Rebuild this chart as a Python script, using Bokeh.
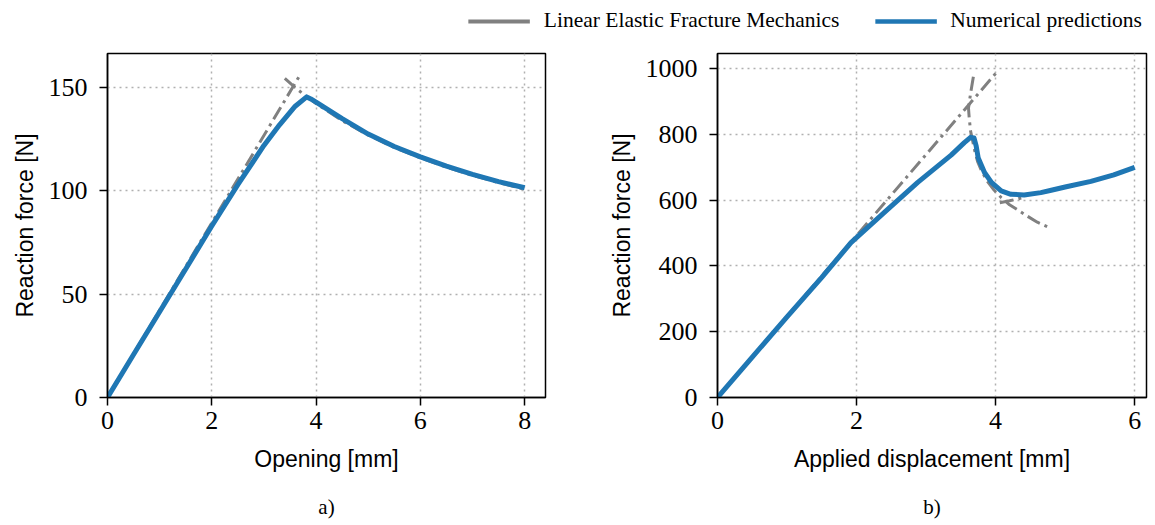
from bokeh.plotting import figure
from bokeh.layouts import column, row
from bokeh.models import Legend, LegendItem, Range1d, FixedTicker
from bokeh.core.properties import value
from bokeh.embed import file_html
from bokeh.resources import INLINE

# ---------------- data ----------------
# Panel a) : Opening [mm] vs reaction force [N]
a_num_x = [0, 0.5, 1, 1.5, 2, 2.5, 3, 3.3, 3.6, 3.82, 3.9, 4.0, 4.5, 5, 5.5, 6, 6.5, 7, 7.5, 8]
a_num_y = [0, 20.8, 41.5, 62.2, 83, 103, 122, 132, 141, 145.5, 144.5, 143, 135, 127.5, 121.5, 116.5, 112, 108, 104.5, 101.5]
a_lefm_lin_x = [0, 3.69]
a_lefm_lin_y = [0, 156]
a_lefm_crv_x = [3.4, 3.6, 3.8, 4.0, 4.5, 5, 5.5, 6, 6.5, 7, 7.5, 8]
a_lefm_crv_y = [154.5, 150, 146, 142.3, 134, 127, 121, 116, 111.5, 107.5, 104, 100.8]

# Panel b) : Applied displacement [mm] vs reaction force [N]
b_num_x = [0, 0.5, 1, 1.5, 1.92, 2.4, 2.88, 3.36, 3.55, 3.64, 3.69, 3.72, 3.75, 3.84, 3.94, 4.08, 4.22, 4.41, 4.65, 4.8, 5.0, 5.37, 5.7, 6.0]
b_num_y = [0, 123, 245, 365, 471, 563, 654, 737, 775, 791, 789, 765, 728, 684, 654, 628, 618, 616, 623, 630, 640, 657, 677, 700]
b_lefm_lin_x = [0, 4.04]
b_lefm_lin_y = [0, 995]
b_lefm_crv1_x = [3.68, 3.64, 3.61, 3.62, 3.64, 3.67, 3.70, 3.74, 3.80, 3.88, 3.98, 4.08, 4.2, 4.35, 4.46, 4.6, 4.77]
b_lefm_crv1_y = [975, 925, 880, 850, 810, 780, 750, 718, 688, 658, 630, 608, 586, 566, 551, 533, 517]
b_lefm_crv2_x = [4.06, 4.2, 4.42]
b_lefm_crv2_y = [592, 598, 609]

a_xticks = [0, 2, 4, 6, 8]
a_yticks = [0, 50, 100, 150]
b_xticks = [0, 2, 4, 6]
b_yticks = [0, 200, 400, 600, 800, 1000]

legend_labels = ["Linear Elastic Fracture Mechanics", "Numerical predictions"]
captions = ["a)", "b)"]
xlabels = ["Opening [mm]", "Applied displacement [mm]"]
ylabel = "Reaction force [N]"

# ---------------- layout / styles ----------------
BLUE = "#1f77b4"
GRAY = "#808080"
SERIF = "Liberation Serif"
SANS = "Liberation Sans"
DASHDOT = "14 5 3 5"

TOTAL_W = 1150
P1_W, P2_W = 600, 550
P1_BL, P1_BR = 107, 55
P2_BL, P2_BR = 117, 4
TOP_B, FRAME_H, BOT_B = 5, 344, 92
LEG_H = 48
CAP_H = 34


def style(p, xticks, yticks, xlabel):
    p.outline_line_color = "black"
    p.outline_line_width = 1.5
    for ax in (p.xaxis[0], p.yaxis[0]):
        ax.axis_line_width = 1.5
        ax.axis_line_color = "black"
        ax.major_tick_line_width = 1.5
        ax.major_tick_line_color = "black"
        ax.major_tick_out = 8
        ax.major_tick_in = 0
        ax.minor_tick_line_color = None
        ax.major_label_text_font = SERIF
        ax.major_label_text_font_size = "26px"
        ax.major_label_text_color = "black"
        ax.axis_label_text_font = SANS
        ax.axis_label_text_font_size = "23px"
        ax.axis_label_text_font_style = "normal"
        ax.axis_label_text_color = "black"
    p.xaxis[0].ticker = FixedTicker(ticks=xticks)
    p.yaxis[0].ticker = FixedTicker(ticks=yticks)
    p.xaxis[0].axis_label = xlabel
    p.yaxis[0].axis_label = ylabel
    p.xaxis[0].major_label_standoff = 6
    p.yaxis[0].major_label_standoff = 12
    p.xaxis[0].axis_label_standoff = 14
    p.yaxis[0].axis_label_standoff = 8
    for g in (p.xgrid[0], p.ygrid[0]):
        g.grid_line_color = "#b0b0b0"
        g.grid_line_dash = "2 4"
        g.grid_line_width = 1.5
    p.background_fill_color = "white"
    p.border_fill_color = "white"


# legend strip
lf = figure(width=TOTAL_W, height=LEG_H, toolbar_location=None, output_backend="svg",
            x_range=Range1d(0, 1), y_range=Range1d(0, 1),
            x_axis_location=None, y_axis_location=None, min_border=0)
lf.grid.visible = False
lf.outline_line_color = None
r_g = lf.line(x=[-10, -9], y=[-10, -9], line_color=GRAY, line_width=4)
r_b = lf.line(x=[-10, -9], y=[-10, -9], line_color=BLUE, line_width=4.5)
leg = Legend(items=[LegendItem(label=legend_labels[0], renderers=[r_g]),
                    LegendItem(label=legend_labels[1], renderers=[r_b])],
             orientation="horizontal", location="top_right",
             glyph_width=62, glyph_height=14, label_height=14,
             label_standoff=14, spacing=35,
             padding=0, margin=8, label_text_font=SERIF,
             label_text_font_size="21.5px", label_text_color="black",
             border_line_color=None, background_fill_alpha=0)
lf.add_layout(leg)

PH = TOP_B + FRAME_H + BOT_B

# panel a
p1 = figure(width=P1_W, height=PH, toolbar_location=None, output_backend="svg",
            x_range=Range1d(0, 8.4), y_range=Range1d(0, 166.5),
            min_border_left=P1_BL, min_border_right=P1_BR, min_border_top=TOP_B,
            min_border_bottom=BOT_B)
p1.line(a_lefm_lin_x, a_lefm_lin_y, line_color=GRAY, line_width=3, line_dash=DASHDOT)
p1.line(a_lefm_crv_x, a_lefm_crv_y, line_color=GRAY, line_width=3, line_dash=DASHDOT)
p1.line(a_num_x, a_num_y, line_color=BLUE, line_width=5, line_join="round")
style(p1, a_xticks, a_yticks, xlabels[0])

# panel b
p2 = figure(width=P2_W, height=PH, toolbar_location=None, output_backend="svg",
            x_range=Range1d(0, 6.17), y_range=Range1d(0, 1046),
            min_border_left=P2_BL, min_border_right=P2_BR, min_border_top=TOP_B,
            min_border_bottom=BOT_B)
p2.line(b_lefm_lin_x, b_lefm_lin_y, line_color=GRAY, line_width=3, line_dash=DASHDOT)
p2.line(b_lefm_crv1_x, b_lefm_crv1_y, line_color=GRAY, line_width=3, line_dash=DASHDOT)
p2.line(b_lefm_crv2_x, b_lefm_crv2_y, line_color=GRAY, line_width=3, line_dash=DASHDOT)
p2.line(b_num_x, b_num_y, line_color=BLUE, line_width=5, line_join="round")
style(p2, b_xticks, b_yticks, xlabels[1])

# caption strip (pixel coordinates), captions centred under each frame
cf = figure(width=TOTAL_W, height=CAP_H, toolbar_location=None, output_backend="svg",
            x_range=Range1d(0, TOTAL_W), y_range=Range1d(0, CAP_H),
            x_axis_location=None, y_axis_location=None, min_border=0)
cf.grid.visible = False
cf.outline_line_color = None
cap_x = [P1_BL + (P1_W - P1_BL - P1_BR) / 2,
         P1_W + P2_BL + (P2_W - P2_BL - P2_BR) / 2]
cf.text(x=cap_x, y=[CAP_H - 17] * 2, text=captions, text_align="center",
        text_baseline="middle", text_font=value(SERIF), text_font_size="21px",
        text_color="black")

layout = column(lf, row(p1, p2, spacing=0), cf, spacing=0)
open("out.html", "w").write(file_html(layout, INLINE))
